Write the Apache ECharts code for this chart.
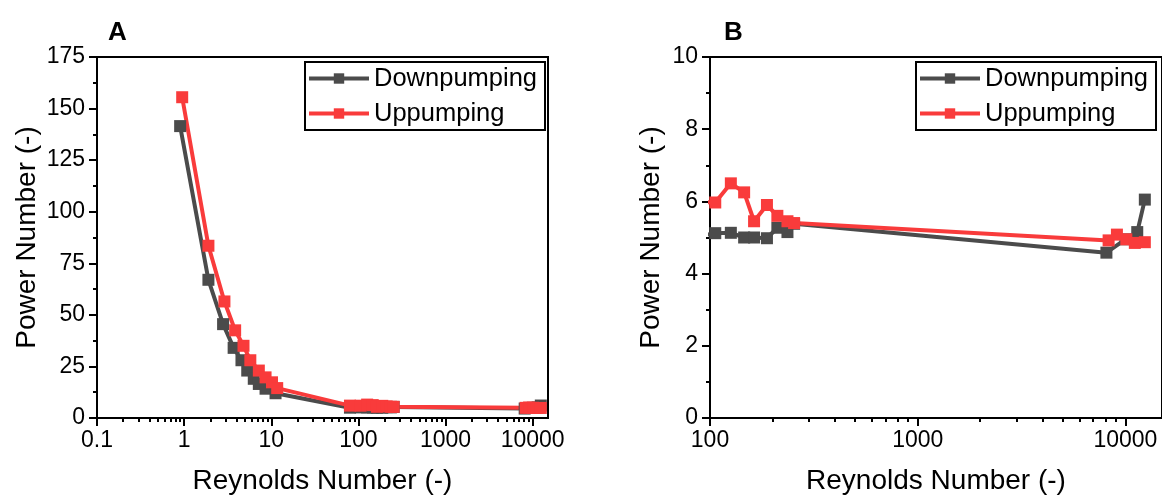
<!DOCTYPE html>
<html><head><meta charset="utf-8">
<script src="https://cdn.jsdelivr.net/npm/echarts@6/dist/echarts.min.js"></script>
<style>html,body{margin:0;padding:0;background:#fff}#c{width:1162px;height:500px}</style>
</head><body><div id="c"></div>
<script>
// ---- data ----
const seriesNames = ['Downpumping', 'Uppumping'];
const downRe = [0.9, 1.9, 2.8, 3.7, 4.55, 5.3, 6.3, 7.2, 8.6, 11.2, 80, 106, 126, 146, 163, 188, 211, 236, 254, 8100, 10000, 11400, 12400];
const downPn = [141.5, 67, 45.5, 34, 28, 23, 19, 16.5, 14.2, 12, 5.0, 5.12, 5.13, 5.0, 5.0, 4.98, 5.27, 5.15, 5.38, 4.58, 4.95, 5.15, 6.05];
const upRe = [0.95, 1.9, 2.9, 3.85, 4.8, 5.75, 7.2, 8.6, 10.2, 11.7, 80, 106, 126, 146, 163, 188, 211, 236, 254, 8300, 9100, 10100, 11100, 12400];
const upPn = [155.5, 83.5, 56.5, 42.5, 35, 28, 23, 19.7, 17.3, 14.5, 6.0, 5.97, 6.5, 6.25, 5.45, 5.9, 5.6, 5.45, 5.4, 4.92, 5.08, 4.95, 4.85, 4.87];
const xTickLabelsA = [0.1, 1, 10, 100, 1000, 10000];
const xTickLabelsB = [100, 1000, 10000];
const panelLabels = ['A', 'B'];
const xTitle = 'Reynolds Number (-)';
const yTitle = 'Power Number (-)';

const colors = ['#4b4b4b', '#f93b3b'];
const FONT = 'Liberation Sans, Arial, sans-serif';

function minorTicks(lo, hi) {
  const out = [];
  for (let d = lo; d < hi; d *= 10) for (let k = 2; k <= 9; k++) out.push(+(d * k).toPrecision(6));
  return out;
}
const pairs = (xs, ys) => xs.map((x, i) => [x, ys[i]]);

const chart = echarts.init(document.getElementById('c'), null, {renderer: 'canvas'});

function xAxes(gridIndex, min, max, majors, minors, showName) {
  return [{
    type: 'log', gridIndex, min, max, logBase: 10,
    name: showName, nameLocation: 'middle', nameGap: 49,
    nameTextStyle: {fontFamily: FONT, fontSize: 28, color: '#000'},
    axisLine: {show: true, onZero: false, lineStyle: {color: '#000', width: 2}},
    axisTick: {show: true, inside: false, length: 8, customValues: majors, lineStyle: {color: '#000', width: 2}},
    axisLabel: {show: true, customValues: majors, fontFamily: FONT, fontSize: 23, color: '#000', margin: 11,
      formatter: v => String(v)},
    splitLine: {show: false}, minorTick: {show: false}
  }, {
    type: 'log', gridIndex, min, max, logBase: 10, position: 'bottom',
    axisLine: {show: false},
    axisTick: {show: true, inside: false, length: 4, customValues: minors, lineStyle: {color: '#000', width: 2}},
    axisLabel: {show: false}, splitLine: {show: false}
  }];
}
function yAxis(gridIndex, max, interval, gap) {
  return {
    type: 'value', gridIndex, min: 0, max, interval,
    name: yTitle, nameLocation: 'middle', nameGap: gap,
    nameTextStyle: {fontFamily: FONT, fontSize: 28, color: '#000'},
    axisLine: {show: true, onZero: false, lineStyle: {color: '#000', width: 2}},
    axisTick: {show: true, inside: false, length: 8, lineStyle: {color: '#000', width: 2}},
    minorTick: {show: true, splitNumber: 2, length: 4, lineStyle: {color: '#000', width: 2}},
    axisLabel: {fontFamily: FONT, fontSize: 23, color: '#000', margin: 12},
    splitLine: {show: false}
  };
}
function lineSeries(name, xi, yi, data, color) {
  return {
    type: 'line', name, xAxisIndex: xi, yAxisIndex: yi, data,
    symbol: 'rect', symbolSize: 12, showSymbol: true,
    lineStyle: {color, width: 4}, itemStyle: {color},
    emphasis: {disabled: true}, animation: false, clip: true
  };
}
function legend(left) {
  return {
    left, top: 62, orient: 'vertical', data: seriesNames,
    borderColor: '#000', borderWidth: 2, borderRadius: 0,
    padding: [3, 8, 3, 2], itemGap: 8, itemWidth: 60, itemHeight: 13,
    lineStyle: {width: 4},
    textStyle: {fontFamily: FONT, fontSize: 25.5, color: '#000', lineHeight: 27},
    selectedMode: false
  };
}

const option = {
  backgroundColor: '#fff',
  animation: false,
  title: [
    {text: panelLabels[0], left: 103, top: 15, textStyle: {fontFamily: FONT, fontSize: 26, fontWeight: 'bold', color: '#000'}},
    {text: panelLabels[1], left: 719, top: 15, textStyle: {fontFamily: FONT, fontSize: 26, fontWeight: 'bold', color: '#000'}}
  ],
  legend: [legend(305), legend(916)],
  grid: [
    {left: 97, top: 57, width: 451, height: 364, show: true, borderColor: '#000', borderWidth: 2, backgroundColor: 'transparent'},
    {left: 710, top: 57, width: 454, height: 364, show: true, borderColor: '#000', borderWidth: 2, backgroundColor: 'transparent'}
  ],
  xAxis: [
    ...xAxes(0, 0.1, 15000, xTickLabelsA, minorTicks(0.1, 10000), xTitle),
    ...xAxes(1, 100, 15000, xTickLabelsB, minorTicks(100, 10000), xTitle)
  ],
  yAxis: [yAxis(0, 175, 25, 56), yAxis(1, 10, 2, 45)],
  series: [
    lineSeries(seriesNames[0], 0, 0, pairs(downRe, downPn), colors[0]),
    lineSeries(seriesNames[1], 0, 0, pairs(upRe, upPn), colors[1]),
    lineSeries(seriesNames[0], 2, 1, pairs(downRe, downPn), colors[0]),
    lineSeries(seriesNames[1], 2, 1, pairs(upRe, upPn), colors[1])
  ]
};
chart.setOption(option);
</script></body></html>
